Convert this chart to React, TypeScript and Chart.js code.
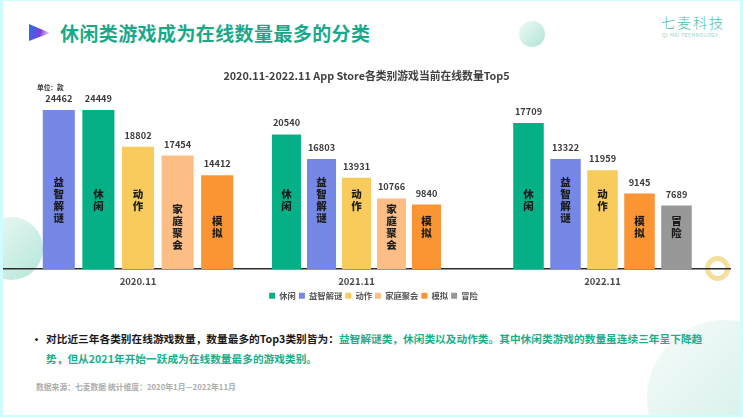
import React, { useEffect, useRef } from "react";
import { Chart, registerables } from "chart.js";

Chart.register(...registerables);

const FONT = '"Noto Sans CJK SC", "Noto Sans", sans-serif';

const legendCategories = ["休闲", "益智解谜", "动作", "家庭聚会", "模拟", "冒险"];
const legendColors = ["#05B087", "#7688E6", "#F8CC5C", "#FDBE86", "#FB9433", "#989898"];
const periods = ["2020.11", "2021.11", "2022.11"];

const categories2020 = ["益智解谜", "休闲", "动作", "家庭聚会", "模拟"];
const values2020 = [24462, 24449, 18802, 17454, 14412];
const categories2021 = ["休闲", "益智解谜", "动作", "家庭聚会", "模拟"];
const values2021 = [20540, 16803, 13931, 10766, 9840];
const categories2022 = ["休闲", "益智解谜", "动作", "模拟", "冒险"];
const values2022 = [17709, 13322, 11959, 9145, 7689];

const chartTitle = "2020.11-2022.11 App Store各类别游戏当前在线数量Top5";
const upperLabelCategories = ["休闲", "益智解谜", "动作"];

const colorOf = (name: string) => legendColors[legendCategories.indexOf(name)];

const barTextPlugin = {
  id: "barText",
  afterDatasetsDraw(chart: any) {
    const { ctx, chartArea } = chart;
    const meta = chart.getDatasetMeta(0);
    const values = chart.data.datasets[0].data as number[];
    const names = chart.data.labels as string[];
    ctx.save();
    ctx.textAlign = "center";
    ctx.textBaseline = "middle";
    meta.data.forEach((bar: any, i: number) => {
      ctx.fillStyle = "#3a3a3a";
      ctx.font = `700 9.2px ${FONT}`;
      ctx.fillText(String(values[i]), bar.x, bar.y - 11.5);
      const chars = Array.from(names[i]);
      const anchor = chartArea.bottom - (upperLabelCategories.includes(names[i]) ? 69 : 42);
      const pitch = 11.7;
      ctx.fillStyle = "#1c1c1c";
      ctx.font = `900 10.5px ${FONT}`;
      chars.forEach((c, k) => {
        ctx.fillText(c, bar.x, anchor + (k - (chars.length - 1) / 2) * pitch);
      });
    });
    ctx.restore();
  },
};

function GroupChart(props: {
  period: string;
  names: string[];
  values: number[];
  yMax: number;
  left: number;
  width: number;
  barShare: number;
}) {
  const ref = useRef<HTMLCanvasElement | null>(null);
  useEffect(() => {
    const chart = new Chart(ref.current as HTMLCanvasElement, {
      type: "bar",
      data: {
        labels: props.names,
        datasets: [
          {
            label: props.period,
            data: props.values,
            backgroundColor: props.names.map(colorOf),
            barPercentage: props.barShare,
            categoryPercentage: 1,
          },
        ],
      },
      options: {
        animation: false,
        responsive: false,
        devicePixelRatio: 1,
        layout: { padding: 0 },
        plugins: { legend: { display: false }, title: { display: false }, tooltip: { enabled: false } },
        scales: {
          x: {
            grid: { display: false },
            border: { display: false },
            ticks: { display: false },
            title: {
              display: true,
              text: props.period,
              color: "#4a4a4a",
              font: { family: FONT, size: 9.5, weight: "bold" },
              padding: { top: 0, bottom: 3 },
            },
            afterFit: (s: any) => {
              s.height = 21;
            },
          },
          y: { display: false, min: 0, max: props.yMax },
        },
      } as any,
      plugins: [barTextPlugin],
    });
    return () => chart.destroy();
  }, []);
  return (
    <canvas
      ref={ref}
      width={props.width}
      height={200}
      style={{ position: "absolute", left: props.left, top: 90, width: props.width, height: 200 }}
    />
  );
}

function BackdropChart() {
  const ref = useRef<HTMLCanvasElement | null>(null);
  useEffect(() => {
    const chart = new Chart(ref.current as HTMLCanvasElement, {
      type: "bar",
      data: {
        labels: periods,
        datasets: legendCategories.map((name, i) => ({
          label: name,
          data: [],
          backgroundColor: legendColors[i],
        })),
      },
      options: {
        animation: false,
        responsive: false,
        devicePixelRatio: 1,
        layout: { padding: { right: 5 } },
        plugins: {
          title: {
            display: true,
            text: chartTitle,
            color: "#3f3f3f",
            font: { family: FONT, size: 10.8, weight: "bold" },
            padding: { top: 9, bottom: 10 },
          },
          legend: {
            position: "bottom",
            labels: {
              boxWidth: 6,
              boxHeight: 6,
              padding: 3,
              color: "#555555",
              font: { family: FONT, size: 8.3, weight: "bold" },
            },
          },
          tooltip: { enabled: false },
        },
        scales: {
          x: {
            grid: { display: false },
            border: { color: "#2c2c2c", width: 1.5 },
            ticks: { display: false },
            afterFit: (s: any) => {
              s.height = 20;
            },
          },
          y: { display: false, min: 0, max: 1 },
        },
      } as any,
      plugins: [
        {
          id: "legendShift",
          afterLayout(c: any) {
            c.legend.left += 7;
            c.legend.right += 7;
          },
        },
      ],
    });
    return () => chart.destroy();
  }, []);
  return (
    <canvas
      ref={ref}
      width={732}
      height={250}
      style={{ position: "absolute", left: 3, top: 60, width: 732, height: 250 }}
    />
  );
}

const abs = (o: React.CSSProperties): React.CSSProperties => ({
  position: "absolute",
  whiteSpace: "nowrap",
  fontFamily: FONT,
  ...o,
});

export default function App() {
  return (
    <div
      style={{
        position: "fixed",
        left: 0,
        top: 0,
        width: 743,
        height: 417,
        overflow: "hidden",
        background: "#fff",
        filter: "blur(0.35px)",
      }}
    >
      {/* decorations */}
      <div style={{ position: "absolute", left: 3, top: 1, width: 737, height: 414, overflow: "hidden" }}>
        <div
          style={{
            position: "absolute",
            left: 644,
            top: 319,
            width: 156,
            height: 156,
            borderRadius: "50%",
            background: "linear-gradient(135deg,#f7fcfb,#c8ebe2)",
          }}
        />
        <div
          style={{
            position: "absolute",
            left: -23,
            top: 216,
            width: 63,
            height: 63,
            borderRadius: "50%",
            background: "linear-gradient(135deg,#f0faf7,#b5e6d8)",
          }}
        />
      </div>
      <div
        style={{
          position: "absolute",
          left: 519,
          top: 21,
          width: 26,
          height: 26,
          borderRadius: "50%",
          background: "linear-gradient(135deg,#eef9f6,#b0e4d5)",
        }}
      />
      <div
        style={{
          position: "absolute",
          left: 705,
          top: 256,
          width: 15,
          height: 15,
          borderRadius: "50%",
          border: "5px solid #F6DE9C",
        }}
      />
      <svg style={{ position: "absolute", left: 29, top: 24 }} width={22} height={18}>
        <defs>
          <linearGradient id="tri" x1="0" x2="1" y1="0.3" y2="0.5">
            <stop offset="0" stopColor="#2a6fe2" />
            <stop offset="0.55" stopColor="#7b3fe0" />
            <stop offset="1" stopColor="#f7d5ee" />
          </linearGradient>
        </defs>
        <polygon points="0,0 0,17 21,9" fill="url(#tri)" />
      </svg>

      {/* header */}
      <div style={abs({ left: 60, top: 19, fontSize: 19, fontWeight: 700, color: "#19A98A", lineHeight: "28px", letterSpacing: 0.4 })}>
        休闲类游戏成为在线数量最多的分类
      </div>
      <div style={abs({ left: 661, top: 12, fontSize: 14, fontWeight: 300, color: "#4DBFA9", lineHeight: "20px", letterSpacing: 2 })}>七麦科技</div>
      <div style={abs({ left: 662, top: 31, fontSize: 5, color: "#8AD3C4", lineHeight: "8px", letterSpacing: 0.45 })}>
        QI MAI TECHNOLOGY
      </div>

      {/* chart */}
      <BackdropChart />
      <GroupChart period={periods[0]} names={categories2020} values={values2020} yMax={27540} left={39} width={198} barShare={0.81} />
      <GroupChart period={periods[1]} names={categories2021} values={values2021} yMax={27330} left={269} width={175} barShare={0.83} />
      <GroupChart period={periods[2]} names={categories2022} values={values2022} yMax={21700} left={510} width={185} barShare={0.825} />
      <div style={abs({ left: 37, top: 82, fontSize: 6.7, fontWeight: 700, color: "#333", lineHeight: "10px" })}>单位：款</div>

      {/* notes */}
      <div style={abs({ left: 31, top: 332, fontSize: 11, fontWeight: 700, color: "#111", lineHeight: "14px" })}>•</div>
      <div style={abs({ left: 46, top: 331, fontSize: 10.7, fontWeight: 700, color: "#1a1a1a", lineHeight: "16px" })}>
        对比近三年各类别在线游戏数量，数量最多的Top3类别皆为：
        <span style={{ color: "#1BAE8B" }}>益智解谜类，休闲类以及动作类。其中休闲类游戏的数量虽连续三年呈下降趋</span>
      </div>
      <div style={abs({ left: 46, top: 351, fontSize: 10.7, fontWeight: 700, color: "#1BAE8B", lineHeight: "16px" })}>
        势，但从2021年开始一跃成为在线数量最多的游戏类别。
      </div>
      <div style={abs({ left: 36, top: 381, fontSize: 7.8, fontWeight: 700, color: "#adadad", lineHeight: "12px" })}>
        数据来源：七麦数据 统计维度：2020年1月—2022年11月
      </div>

      {/* frame */}
      <div
        style={{
          position: "absolute",
          left: 0,
          top: 0,
          width: 743,
          height: 417,
          boxSizing: "border-box",
          borderStyle: "solid",
          borderColor: "#CFFCFC",
          borderWidth: "1px 3px 2px 3px",
          pointerEvents: "none",
        }}
      />
    </div>
  );
}
